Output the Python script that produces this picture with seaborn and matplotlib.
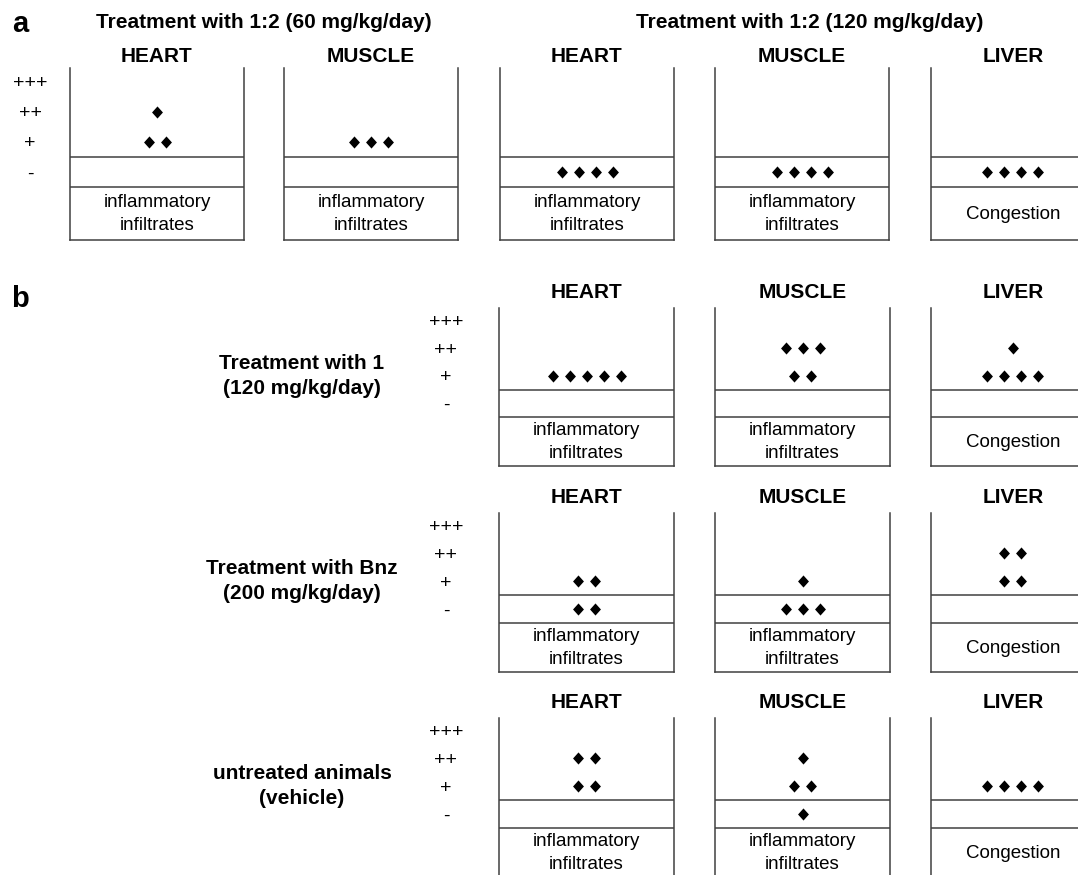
import numpy as np
import pandas as pd
import matplotlib
matplotlib.use('Agg')
import matplotlib.pyplot as plt
import seaborn as sns
from matplotlib.path import Path
from matplotlib.markers import MarkerStyle

sns.set_style('white')
plt.rcParams['font.family'] = ['Liberation Sans', 'DejaVu Sans']
plt.rcParams['text.color'] = 'black'
plt.rcParams['ytick.color'] = 'black'

# histology scores, lowest first
score_labels = ['-', '+', '++', '+++']

# animals (one diamond each) per score, in order [-, +, ++, +++]
a60_heart = [0, 2, 1, 0]
a60_muscle = [0, 3, 0, 0]
a120_heart = [4, 0, 0, 0]
a120_muscle = [4, 0, 0, 0]
a120_liver = [4, 0, 0, 0]
cpd1_heart = [0, 5, 0, 0]
cpd1_muscle = [0, 2, 3, 0]
cpd1_liver = [0, 4, 1, 0]
bnz_heart = [2, 2, 0, 0]
bnz_muscle = [3, 1, 0, 0]
bnz_liver = [0, 2, 2, 0]
veh_heart = [0, 2, 2, 0]
veh_muscle = [1, 2, 1, 0]
veh_liver = [0, 4, 0, 0]

finding = {'HEART': 'inflammatory\ninfiltrates',
           'MUSCLE': 'inflammatory\ninfiltrates',
           'LIVER': 'Congestion'}

group_titles = ['Treatment with 1:2 (60 mg/kg/day)', 'Treatment with 1:2 (120 mg/kg/day)']
row_titles = ['Treatment with 1\n(120 mg/kg/day)',
              'Treatment with Bnz\n(200 mg/kg/day)',
              'untreated animals\n(vehicle)']

W, H = 1078, 875
fig = plt.figure(figsize=(W / 100, H / 100), dpi=100)

LINE = '#404040'
SPACING = 17  # px between diamonds
diamond = MarkerStyle(Path([(0, 1), (0.9, 0), (0, -1), (-0.9, 0), (0, 1)],
                           [1, 2, 2, 2, 79]))


def diamonds(counts):
    rows = []
    for score, n in enumerate(counts):
        for i in range(n):
            rows.append((i - (n - 1) / 2, score))
    return pd.DataFrame(rows, columns=['pos', 'score'])


def panel(x0, w, y0, y1, counts, organ, title_pad, level_pad=None):
    ax = fig.add_axes([x0 / W, 1 - y1 / H, w / W, (y1 - y0) / H])
    df = diamonds(counts)
    sns.scatterplot(data=df, x='pos', y='score', marker=diamond, s=76,
                    color='black', linewidth=0, ax=ax, legend=False)
    half = w / 2 / SPACING
    ax.set_xlim(-half, half)
    ax.set_ylim(-2.25, 3.45)
    ax.set(xlabel='', ylabel='')
    ax.set_xticks([])
    ax.spines['top'].set_visible(False)
    for s in ['left', 'right', 'bottom']:
        ax.spines[s].set_color(LINE)
        ax.spines[s].set_linewidth(1.1)
    ax.axhline(0.5, color=LINE, lw=1.1)
    ax.axhline(-0.5, color=LINE, lw=1.1)
    ax.text(0, -1.39, finding[organ], ha='center', va='center',
            fontsize=13.5, linespacing=1.42)
    ax.set_title(organ, fontsize=15, fontweight='bold', pad=title_pad)
    if level_pad is None:
        ax.set_yticks([])
    else:
        ax.set_yticks(range(len(score_labels)))
        ax.set_yticklabels(score_labels, fontsize=14)
        ax.tick_params(axis='y', length=0, pad=level_pad)
        for lbl in ax.get_yticklabels():
            lbl.set_ha('center')
    return ax


# panel a
panel(70, 174, 68, 240, a60_heart, 'HEART', 4.5, level_pad=28.8)
panel(284, 174, 68, 240, a60_muscle, 'MUSCLE', 4.5)
panel(500, 174, 68, 240, a120_heart, 'HEART', 4.5)
panel(715, 174, 68, 240, a120_muscle, 'MUSCLE', 4.5)
panel(931, 164, 68, 240, a120_liver, 'LIVER', 4.5)

fig.text(20 / W, 1 - 24 / H, 'a', fontsize=21, fontweight='bold', ha='center', va='center')
fig.text(264 / W, 1 - 23 / H, group_titles[0], fontsize=15, fontweight='bold', ha='center', va='center')
fig.text(810 / W, 1 - 23 / H, group_titles[1], fontsize=15, fontweight='bold', ha='center', va='center')

# panel b
fig.text(20 / W, 1 - 299 / H, 'b', fontsize=21, fontweight='bold', ha='center', va='center')
rows_b = [(308, 466, cpd1_heart, cpd1_muscle, cpd1_liver),
          (513, 672, bnz_heart, bnz_muscle, bnz_liver),
          (718, 877, veh_heart, veh_muscle, veh_liver)]
for (y0, y1, heart, muscle, liver), label in zip(rows_b, row_titles):
    panel(499, 175, y0, y1, heart, 'HEART', 7.5, level_pad=38.2)
    panel(715, 175, y0, y1, muscle, 'MUSCLE', 7.5)
    panel(931, 164, y0, y1, liver, 'LIVER', 7.5)
    fig.text(302 / W, 1 - (y0 + 68) / H, label, fontsize=15, fontweight='bold',
             ha='center', va='center', linespacing=1.45)

fig.savefig('out.png', dpi=100)
